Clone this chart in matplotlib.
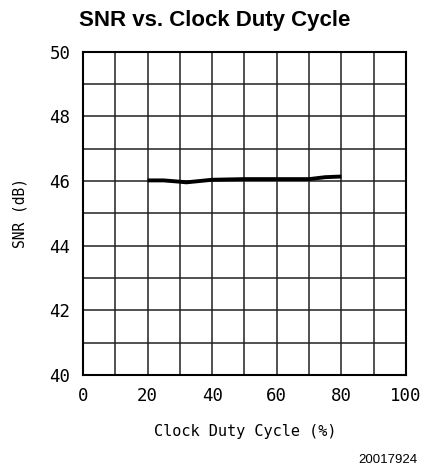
import matplotlib.pyplot as plt
import numpy as np

duty = [20, 25, 30, 32, 40, 50, 60, 70, 75, 80]
snr = [46.02, 46.02, 45.98, 45.96, 46.04, 46.06, 46.06, 46.06, 46.12, 46.14]

xticks = [0, 20, 40, 60, 80, 100]
yticks = [40, 42, 44, 46, 48, 50]

fig = plt.figure(figsize=(4.23, 4.71), dpi=100)
ax = fig.add_axes([0.196, 0.204, 0.764, 0.686])

ax.plot(duty, snr, color='black', lw=2.8, solid_capstyle='butt')

ax.set_xlim(0, 100)
ax.set_ylim(40, 50)
ax.set_xticks(xticks)
ax.set_yticks(yticks)
ax.set_xticks(np.arange(0, 101, 10), minor=True)
ax.set_yticks(np.arange(40, 51, 1), minor=True)
ax.grid(True, which='both', color='#222222', lw=1.1)
ax.tick_params(which='both', length=0, labelsize=12.5, pad=9)
for lab in ax.get_xticklabels() + ax.get_yticklabels():
    lab.set_family('DejaVu Sans Mono')
for s in ax.spines.values():
    s.set_linewidth(1.5)

fig.text(0.508, 0.956, 'SNR vs. Clock Duty Cycle', ha='center', va='center',
         fontsize=16, fontweight='bold', family='Liberation Sans')
fig.text(0.047, 0.547, 'SNR (dB)', rotation=90, ha='center', va='center',
         fontsize=10.5, family='DejaVu Sans Mono')
fig.text(0.58, 0.083, 'Clock Duty Cycle (%)', ha='center', va='center',
         fontsize=11, family='DejaVu Sans Mono')
fig.text(0.987, 0.023, '20017924', ha='right', va='center',
         fontsize=9.5, family='Liberation Sans')

fig.savefig('out.png', dpi=100)
